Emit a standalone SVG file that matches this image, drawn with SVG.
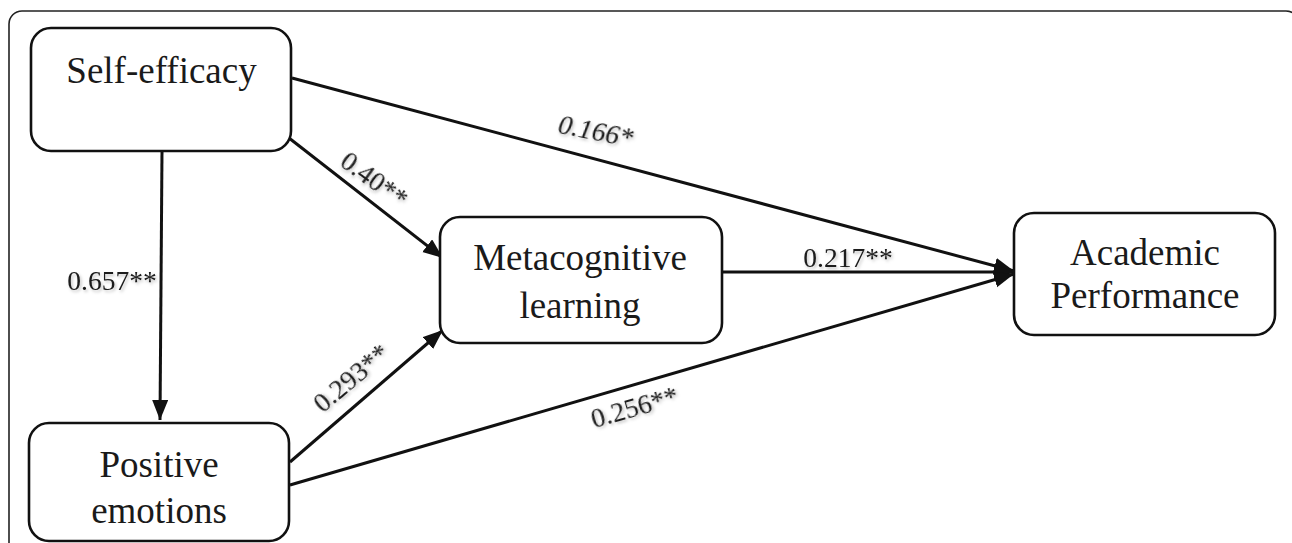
<svg xmlns="http://www.w3.org/2000/svg" width="1292" height="543" viewBox="0 0 1292 543">
  <style>
    .box { fill: #ffffff; stroke: #111111; stroke-width: 2.6; }
    .node-text { font-family: "Liberation Serif", "Times New Roman", serif; font-size: 37px; fill: #1a1a1a; text-anchor: middle; }
    .edge { stroke: #111111; stroke-width: 3; fill: none; }
    .lbl { font-family: "Liberation Serif", "Times New Roman", serif; font-size: 27.5px; fill: #1a1a1a; text-anchor: middle; filter: url(#shadow); }
    .frame { fill: none; stroke: #222222; stroke-width: 1.6; }
  </style>
  <defs>
    <marker id="arrow" markerUnits="userSpaceOnUse" markerWidth="22" markerHeight="18" refX="20" refY="8" orient="auto">
      <path d="M0,0 L20,8 L0,16 Z" fill="#111111"/>
    </marker>
    <filter id="shadow" x="-20%" y="-40%" width="140%" height="180%">
      <feDropShadow dx="1.5" dy="2" stdDeviation="1.5" flood-color="#000000" flood-opacity="0.25"/>
    </filter>
  </defs>
  <rect width="1292" height="543" fill="#ffffff"/>
  <rect class="frame" x="9" y="11" width="1290" height="600" rx="13"/>

  <g id="connectors">
    <line class="edge" x1="162" y1="151" x2="160" y2="420" marker-end="url(#arrow)"/>
    <line class="edge" x1="289" y1="138" x2="443" y2="258" marker-end="url(#arrow)"/>
    <line class="edge" x1="290" y1="462" x2="443" y2="330" marker-end="url(#arrow)"/>
    <line class="edge" x1="292" y1="78" x2="1014" y2="271" marker-end="url(#arrow)"/>
    <line class="edge" x1="722" y1="272" x2="1014" y2="272" marker-end="url(#arrow)"/>
    <line class="edge" x1="290" y1="485" x2="1014" y2="274" marker-end="url(#arrow)"/>
    <text class="lbl" x="112" y="290">0.657**</text>
    <text class="lbl" font-style="italic" transform="translate(594,140) rotate(11)">0.166*</text>
    <text class="lbl" transform="translate(369,187) rotate(36)">0.40**</text>
    <text class="lbl" x="848" y="267">0.217**</text>
    <text class="lbl" transform="translate(357,385) rotate(-40)">0.293**</text>
    <text class="lbl" transform="translate(637,416) rotate(-16)">0.256**</text>
  </g>

  <g id="self-efficacy">
    <rect class="box" x="31" y="28" width="260" height="123" rx="20"/>
    <text class="node-text" x="161.5" y="83">Self-efficacy</text>
  </g>
  <g id="positive-emotions">
    <rect class="box" x="29" y="423" width="260" height="118" rx="20"/>
    <text class="node-text" x="159" y="477">Positive</text>
    <text class="node-text" x="159" y="523">emotions</text>
  </g>
  <g id="metacognitive-learning">
    <rect class="box" x="440" y="217" width="282" height="126" rx="20"/>
    <text class="node-text" x="580" y="270">Metacognitive</text>
    <text class="node-text" x="580" y="318">learning</text>
  </g>
  <g id="academic-performance">
    <rect class="box" x="1014" y="213" width="261" height="122" rx="20"/>
    <text class="node-text" x="1145" y="265">Academic</text>
    <text class="node-text" x="1145" y="308">Performance</text>
  </g>
</svg>
